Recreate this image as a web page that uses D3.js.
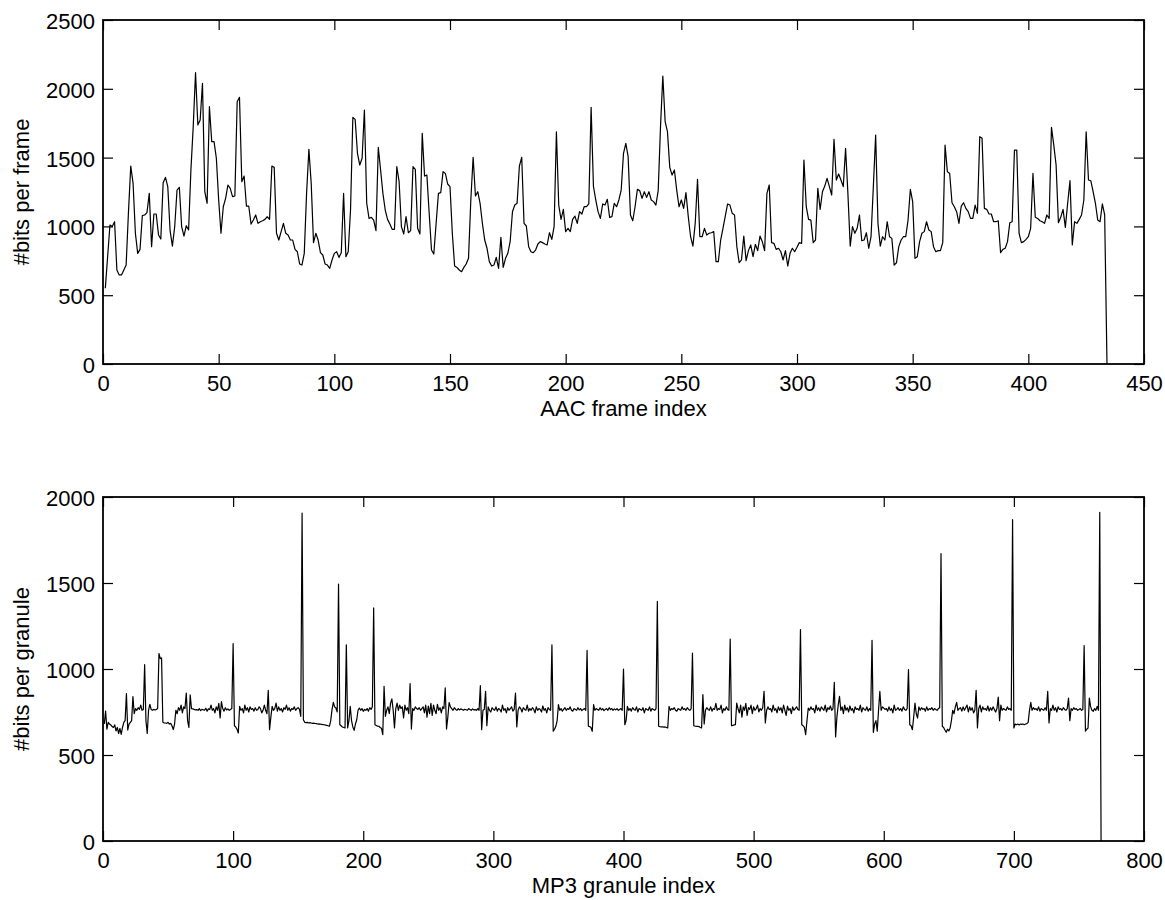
<!DOCTYPE html>
<html>
<head>
<meta charset="utf-8">
<script src="https://cdn.jsdelivr.net/npm/d3@7"></script>
<style>
  html, body { margin: 0; padding: 0; background: #fff; }
  svg { display: block; }
  text { font-family: "Liberation Sans", Arial, Helvetica, sans-serif; fill: #000; }
</style>
</head>
<body>
<svg id="chart" width="1165" height="900"></svg>
<script>
// ---------------- DATA ----------------
// AAC: bits per frame, frames 1..434
const aacBits = [
550,780,1010,1000,1034,683,647,647,683,719,
1100,1439,1313,950,804,833,1078,1083,1100,1240,
853,1090,1090,937,908,1318,1356,1289,969,857,
998,1264,1284,998,930,1005,974,1410,1725,2117,
1737,1773,2040,1252,1168,1870,1616,1616,1495,1192,
950,1143,1204,1301,1277,1216,1221,1906,1938,1325,
1366,1148,1148,1017,1046,1083,1022,1034,1041,1051,
1070,1051,1439,1429,950,901,962,1022,950,937,
901,901,833,816,727,719,804,1240,1560,1313,
882,950,901,809,792,727,719,695,756,804,
816,775,809,1240,780,816,1119,1792,1778,1531,
1446,1495,1846,1168,1058,1066,1046,969,1575,1410,
1240,1119,1051,1017,979,979,1434,1325,998,945,
1071,954,969,1434,1415,986,945,1676,1366,1373,
1095,828,799,1022,1240,1245,1398,1385,1308,1289,
950,712,702,683,671,702,727,768,1192,1502,
1221,1252,1168,1022,901,841,744,712,719,775,
695,920,702,768,804,889,1107,1155,1168,1439,
1502,1022,1003,853,816,809,828,872,889,882,
872,865,954,906,998,1688,1155,1051,1124,962,
986,962,1051,1075,1022,1107,1090,1143,1143,1163,
1865,1293,1192,1107,1058,1163,1155,1197,1066,1071,
1168,1143,1192,1264,1531,1604,1507,1083,1041,1143,
1269,1260,1204,1252,1211,1252,1192,1180,1155,1260,
1725,2093,1761,1688,1429,1373,1410,1264,1143,1192,
1131,1245,1071,925,857,1022,1342,925,925,986,
937,950,954,962,744,744,901,986,1075,1163,
1155,1095,1083,853,736,756,930,751,824,865,
780,870,824,930,889,824,1240,1301,882,877,
833,841,816,756,824,712,804,841,816,848,
882,877,1482,1143,1051,1046,882,901,1277,1124,
1252,1293,1349,1289,1228,1633,1337,1381,1337,1289,
1567,1240,857,998,950,986,1083,896,901,954,
841,925,1289,1664,1022,857,925,901,1034,925,
913,719,736,853,901,925,925,1046,1269,1180,
768,780,889,950,962,1034,974,962,853,816,
824,824,882,1591,1398,1385,1172,1143,1107,1022,
1148,1172,1131,1107,1058,1058,1155,1095,1652,1640,
1131,1124,1090,1090,1034,1034,1041,809,833,841,
889,1027,1034,1555,1555,950,882,889,906,925,
986,1385,1066,1058,1041,1034,1022,1083,1058,1720,
1591,1446,1027,1066,1124,993,1168,1332,865,1034,
1022,1051,1083,1192,1688,1337,1332,1252,1168,1046,
1034,1163,1083,0
];

// MP3: bits per granule, granules 1..767
const mp3Bits = [
680,755,650,690,680,675,665,660,675,640,
660,625,655,620,660,690,700,857,645,680,
690,700,840,740,770,760,775,765,790,760,
765,1025,700,625,760,795,765,760,765,762,
765,770,1090,1060,1065,690,686,686,684,690,
680,684,670,648,680,760,740,775,760,790,
745,780,770,860,700,660,850,770,768,765,
762,764,760,770,758,765,763,760,772,755,
768,764,790,760,770,745,780,760,800,715,
810,770,755,775,762,768,760,765,770,1147,
670,663,650,628,783,760,770,745,790,760,
775,750,780,765,770,755,775,760,765,780,
770,745,760,790,760,740,876,647,720,783,
760,770,802,755,780,760,770,750,775,765,
790,760,775,755,770,765,780,760,770,775,
765,725,1907,705,690,688,690,686,688,686,
684,685,683,682,680,681,679,678,677,676,
674,672,670,667,700,764,806,780,773,750,
1494,676,670,663,660,657,1141,657,700,783,
700,663,643,680,705,760,773,760,770,754,
765,760,770,755,775,765,780,1355,676,672,
668,667,660,655,618,899,725,760,780,740,
802,826,760,657,770,802,760,790,770,780,
715,790,760,775,740,915,651,770,760,780,
770,765,775,760,770,780,745,790,720,785,
740,800,730,790,760,740,795,760,775,745,
780,770,890,651,720,805,780,770,760,775,
765,760,770,762,768,764,760,766,763,760,
770,765,760,768,762,764,760,770,760,903,
647,760,765,870,670,780,760,750,775,765,
760,780,755,770,765,750,790,760,770,745,
775,760,770,780,755,765,860,663,760,780,
770,750,775,765,760,790,755,770,760,775,
765,745,780,760,770,765,750,785,760,770,
745,775,765,760,1141,638,650,667,700,793,
760,770,755,765,775,760,770,765,780,760,
755,770,765,760,775,762,770,758,765,770,
760,1108,667,665,660,638,793,760,770,765,
760,775,762,770,758,765,770,760,775,764,
770,760,768,762,770,760,765,770,760,1000,
676,700,783,760,770,755,775,765,760,780,
750,770,765,760,775,745,770,765,760,780,
755,770,765,760,770,1393,667,665,664,663,
662,663,660,657,783,760,770,765,775,760,
755,770,765,760,780,765,770,760,775,765,
760,770,1093,670,668,667,667,665,660,657,
851,680,760,775,765,760,780,755,770,765,
800,760,770,765,790,745,770,760,780,765,
760,1174,670,672,675,676,802,770,745,790,
720,780,760,800,730,775,765,790,740,780,
760,770,790,750,770,760,775,870,686,760,
780,765,770,750,790,760,770,745,780,760,
775,745,790,760,730,785,760,770,740,780,
760,770,780,765,760,1229,676,670,660,618,
700,773,760,780,765,770,745,790,760,775,
755,780,770,760,790,750,775,765,785,760,
770,922,605,720,790,841,760,780,740,790,
760,775,750,785,760,770,745,780,765,770,
760,790,750,775,765,760,780,755,770,760,
1167,632,680,700,638,760,870,760,780,773,
765,770,755,780,760,770,745,790,760,765,
775,760,770,755,780,765,760,770,996,676,
670,647,720,802,740,715,780,760,775,765,
770,755,780,760,770,765,775,760,770,765,
760,770,775,1671,667,660,645,632,650,640,
657,700,760,740,780,806,760,770,775,755,
780,760,775,790,750,780,760,775,745,760,
876,657,770,790,750,780,765,770,760,785,
755,775,760,780,765,750,770,837,700,790,
760,770,765,760,780,765,770,760,1868,657,
680,676,680,675,680,678,680,676,680,682,
690,760,806,760,775,765,770,760,780,755,
770,765,760,775,760,870,686,770,760,790,
760,775,750,780,765,770,760,775,765,760,
770,831,700,770,760,775,765,770,760,765,
770,760,765,1136,638,650,657,831,780,760,
754,770,760,783,760,1911,0
];

// Tick values and titles
const aacXTicks = [0, 50, 100, 150, 200, 250, 300, 350, 400, 450];
const aacYTicks = [0, 500, 1000, 1500, 2000, 2500];
const mp3XTicks = [0, 100, 200, 300, 400, 500, 600, 700, 800];
const mp3YTicks = [0, 500, 1000, 1500, 2000];
const aacXTitle = "AAC frame index";
const aacYTitle = "#bits per frame";
const mp3XTitle = "MP3 granule index";
const mp3YTitle = "#bits per granule";

// ---------------- DRAWING ----------------
const svg = d3.select("#chart");
const FONT = 22;

function drawPanel(cfg) {
  const { data, xDomain, xTicks, yDomain, yTicks, xTitle, yTitle, left, right, top, bottom, titleGap } = cfg;
  const x = d3.scaleLinear().domain(xDomain).range([left, right]);
  const y = d3.scaleLinear().domain(yDomain).range([bottom, top]);
  const g = svg.append("g");

  // data line
  const line = d3.line()
    .x((d, i) => x(i + 1))
    .y(d => y(d));
  g.append("path")
    .datum(data)
    .attr("fill", "none")
    .attr("stroke", "#000")
    .attr("stroke-width", 1.2)
    .attr("stroke-linejoin", "round")
    .attr("d", line);

  const tickLen = 10;
  const axB = g.append("g").attr("transform", `translate(0,${bottom})`)
    .call(d3.axisBottom(x).tickValues(xTicks).tickSizeInner(-tickLen).tickSizeOuter(0).tickPadding(11).tickFormat(d3.format("d")));
  const axT = g.append("g").attr("transform", `translate(0,${top})`)
    .call(d3.axisTop(x).tickValues(xTicks).tickSizeInner(-tickLen).tickSizeOuter(0).tickFormat(""));
  const axL = g.append("g").attr("transform", `translate(${left},0)`)
    .call(d3.axisLeft(y).tickValues(yTicks).tickSizeInner(-tickLen).tickSizeOuter(0).tickPadding(8).tickFormat(d3.format("d")));
  const axR = g.append("g").attr("transform", `translate(${right},0)`)
    .call(d3.axisRight(y).tickValues(yTicks).tickSizeInner(-tickLen).tickSizeOuter(0).tickFormat(""));

  [axB, axT, axL, axR].forEach(a => {
    a.select(".domain").remove();
    a.selectAll(".tick line").attr("stroke", "#000").attr("stroke-width", 1.2);
    a.selectAll("text").style("font-size", FONT + "px").attr("fill", "#000")
      .style("font-family", '"Liberation Sans", Arial, Helvetica, sans-serif');
  });
  axL.selectAll("text").attr("dy", "0.39em");

  g.append("rect")
    .attr("x", left).attr("y", top)
    .attr("width", right - left).attr("height", bottom - top)
    .attr("fill", "none").attr("stroke", "#000").attr("stroke-width", 1.8);

  g.append("text")
    .attr("x", (left + right) / 2)
    .attr("y", bottom + titleGap)
    .attr("text-anchor", "middle")
    .style("font-size", FONT + "px")
    .text(xTitle);
  g.append("text")
    .attr("transform", `translate(29,${(top + bottom) / 2}) rotate(-90)`)
    .attr("text-anchor", "middle")
    .style("font-size", FONT + "px")
    .text(yTitle);
}

drawPanel({
  data: aacBits, xDomain: [0, 450], xTicks: aacXTicks,
  yDomain: [0, 2500], yTicks: aacYTicks,
  xTitle: aacXTitle, yTitle: aacYTitle,
  left: 103, right: 1144, top: 20, bottom: 364, titleGap: 52
});

drawPanel({
  data: mp3Bits, xDomain: [0, 800], xTicks: mp3XTicks,
  yDomain: [0, 2000], yTicks: mp3YTicks,
  xTitle: mp3XTitle, yTitle: mp3YTitle,
  left: 103, right: 1144, top: 497, bottom: 841, titleGap: 52
});
</script>
</body>
</html>
